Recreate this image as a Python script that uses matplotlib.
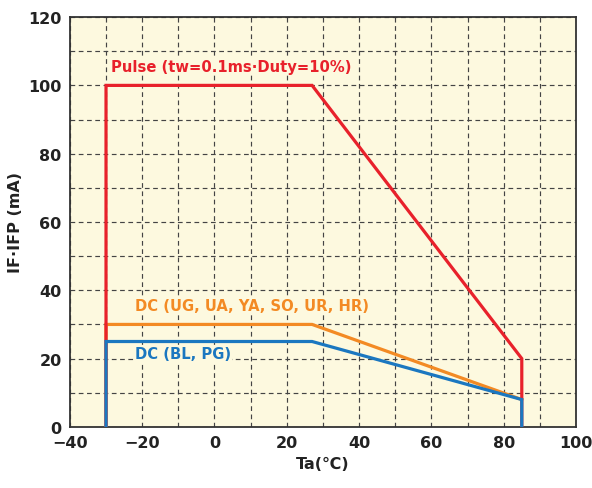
import matplotlib.pyplot as plt
from matplotlib.ticker import MultipleLocator

# 読み取り値
pulse_x = [-30, -30, 27, 85, 85]
pulse_y = [0, 100, 100, 20, 0]
dc1_x = [-30, -30, 27, 85]
dc1_y = [0, 30, 30, 8]
dc2_x = [-30, -30, 27, 85, 85]
dc2_y = [0, 25, 25, 8, 0]

red = "#e8212b"
orange = "#f38a24"
blue = "#1b77c0"
bg = "#fdf9df"

fig = plt.figure(figsize=(5.92, 4.89), dpi=100)
ax = fig.add_axes([0.118, 0.125, 0.855, 0.838])
ax.set_facecolor(bg)

ax.plot(dc1_x, dc1_y, color=orange, lw=2.3, solid_joinstyle="miter", zorder=3)
ax.plot(pulse_x, pulse_y, color=red, lw=2.3, solid_joinstyle="miter", zorder=3)
ax.plot(dc2_x, dc2_y, color=blue, lw=2.3, solid_joinstyle="miter", zorder=4)

ax.set_xlim(-40, 100)
ax.set_ylim(0, 120)
ax.xaxis.set_major_locator(MultipleLocator(20))
ax.xaxis.set_minor_locator(MultipleLocator(10))
ax.yaxis.set_major_locator(MultipleLocator(20))
ax.yaxis.set_minor_locator(MultipleLocator(10))
ax.grid(which="both", color="#444444", linestyle=(0, (4, 3)), linewidth=0.85)
ax.tick_params(which="both", length=0, labelsize=11.5, pad=6)
for lab in ax.get_xticklabels() + ax.get_yticklabels():
    lab.set_fontweight("bold")
    lab.set_color("#222222")
for s in ax.spines.values():
    s.set_linewidth(1.3)
    s.set_color("#333333")

ax.set_xlabel("Ta(℃)", fontsize=11.5, fontweight="bold", color="#222222")
ax.set_ylabel("IF·IFP (mA)", fontsize=11.5, fontweight="bold", color="#222222")

box = dict(facecolor=bg, edgecolor="none", pad=1)
ax.text(-28.6, 105.5, "Pulse (tw=0.1ms·Duty=10%)", color=red, fontsize=10.6,
        fontweight="bold", va="center", bbox=box, zorder=5)
ax.text(-22, 35.5, "DC (UG, UA, YA, SO, UR, HR)", color=orange, fontsize=10.6,
        fontweight="bold", va="center", bbox=box, zorder=5)
ax.text(-22, 21.5, "DC (BL, PG)", color=blue, fontsize=10.6,
        fontweight="bold", va="center", bbox=box, zorder=5)

fig.savefig("out.png", dpi=100)
